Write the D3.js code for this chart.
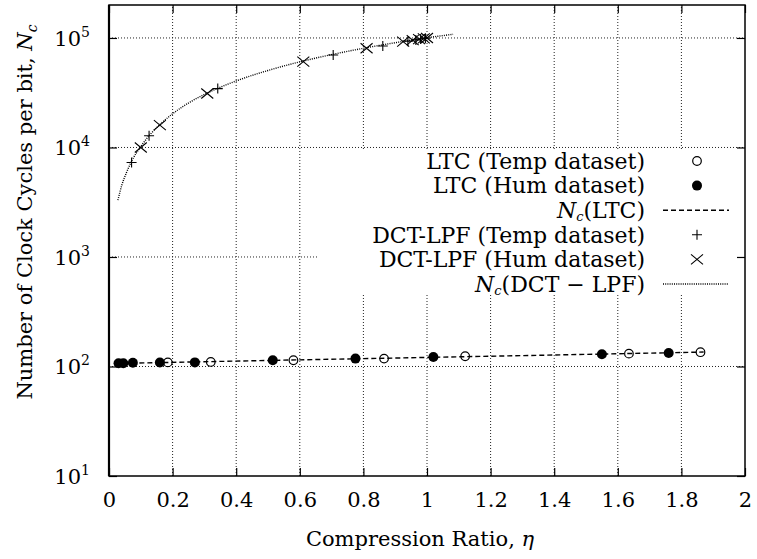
<!DOCTYPE html>
<html><head><meta charset="utf-8">
<script src="https://cdn.jsdelivr.net/npm/d3@7"></script>
<style>
body{margin:0;background:#fff;}
text{font-family:"DejaVu Serif",serif;fill:#000;}
</style></head>
<body><svg id="c" width="757" height="559"></svg>
<script>
// ---- data ----
const xTicks = [0, 0.2, 0.4, 0.6, 0.8, 1, 1.2, 1.4, 1.6, 1.8, 2];
const xTickLabels = ["0","0.2","0.4","0.6","0.8","1","1.2","1.4","1.6","1.8","2"];
const yTicks = [10, 100, 1000, 10000, 100000];
const yTickExp = ["1","2","3","4","5"];

const ltcTempEta = [0.185, 0.32, 0.58, 0.865, 1.12, 1.635, 1.86];
const ltcTempNc  = [109, 110, 114, 118, 124, 131, 135];
const ltcHumEta  = [0.03, 0.045, 0.075, 0.16, 0.27, 0.515, 0.775, 1.02, 1.55, 1.76];
const ltcHumNc   = [107, 107, 108, 108.6, 109, 114, 118, 122, 129.5, 133];
const ltcFitEta  = [0.02, 0.5, 1.0, 1.5, 1.87];
const ltcFitNc   = [106.5, 113.5, 121, 129, 135.5];

const dctTempEta = [0.071, 0.126, 0.342, 0.705, 0.861, 0.94, 0.965, 0.98, 0.995];
const dctTempNc  = [7300, 12800, 34500, 70000, 84500, 93500, 96000, 98000, 99500];
const dctHumEta  = [0.10, 0.16, 0.309, 0.611, 0.81, 0.925, 0.955, 0.975, 0.99, 1.0];
const dctHumNc   = [10000, 16000, 31100, 60800, 80500, 92500, 95500, 97500, 99000, 100000];
const dctFitEta  = [0.028, 0.04, 0.055, 0.07, 0.1, 0.13, 0.16, 0.2, 0.255, 0.3, 0.4, 0.5, 0.6, 0.7, 0.8, 0.9, 1.0, 1.082];
const dctFitNc   = [3300, 4500, 5900, 7400, 10200, 13200, 16200, 20300, 26000, 30500, 40500, 50500, 60500, 70500, 80500, 90500, 100500, 108000];

const legendLabels = [
  {kind:"open",  parts:[["LTC (Temp dataset)"]]},
  {kind:"filled",parts:[["LTC (Hum dataset)"]]},
  {kind:"dash",  parts:[["N","i"],["c","s"],["(LTC)","r"]]},
  {kind:"plus",  parts:[["DCT-LPF (Temp dataset)"]]},
  {kind:"cross", parts:[["DCT-LPF (Hum dataset)"]]},
  {kind:"dot",   parts:[["N","i"],["c","s"],["(DCT \u2212 LPF)","r"]]}
];

// ---- layout ----
const L = 109, R = 745, T = 5, B = 476;
const FS = 21, LFS = 22;
const svg = d3.select("#c");
const x = d3.scaleLinear().domain([0, 2]).range([L, R]);
const y = d3.scaleLog().domain([10, 2e5]).range([B, T]);

// grid
const grid = svg.append("g").attr("stroke", "#222").attr("stroke-width", 1).attr("stroke-dasharray", "1,2");
xTicks.slice(1, -1).forEach(v => grid.append("line").attr("x1", x(v)).attr("x2", x(v)).attr("y1", B).attr("y2", T));
yTicks.slice(1).forEach(v => grid.append("line").attr("x1", L).attr("x2", R).attr("y1", y(v)).attr("y2", y(v)));

// legend background (opaque key)
svg.append("rect").attr("x", 318).attr("y", 149).attr("width", R - 318 - 1).attr("height", 145).attr("fill", "#fff");

// axes (inward ticks)
const ax = svg.append("g").attr("transform", `translate(0,${B})`)
  .call(d3.axisBottom(x).tickValues(xTicks).tickSize(-8).tickPadding(19).tickFormat((d, i) => xTickLabels[i]));
svg.append("g").attr("transform", `translate(0,${T})`)
  .call(d3.axisTop(x).tickValues(xTicks).tickSize(-8).tickFormat(""));
const ay = svg.append("g").attr("transform", `translate(${L},0)`)
  .call(d3.axisLeft(y).tickValues(yTicks).tickSize(-8).tickPadding(20).tickFormat(""));
svg.append("g").attr("transform", `translate(${R},0)`)
  .call(d3.axisRight(y).tickValues(yTicks).tickSize(-8).tickFormat(""));
svg.selectAll(".domain").remove();
svg.selectAll(".tick line").attr("stroke", "#000").attr("stroke-width", 1.2);
ax.selectAll(".tick text").attr("font-size", FS).attr("font-family", "DejaVu Serif").attr("dy", "0.55em");
ay.selectAll(".tick").each(function(d, i) {
  const t = d3.select(this).select("text").attr("font-size", FS).attr("font-family", "DejaVu Serif")
    .attr("dy", "0.35em").attr("x", -19).text(null);
  t.append("tspan").text("10");
  t.append("tspan").attr("font-size", 14).attr("dy", -9).text(yTickExp[i]);
});

// frame
svg.append("rect").attr("x", L).attr("y", T).attr("width", R - L).attr("height", B - T)
  .attr("fill", "none").attr("stroke", "#000").attr("stroke-width", 1.5);
svg.append("line").attr("x1", L).attr("x2", L).attr("y1", T).attr("y2", B).attr("stroke", "#000").attr("stroke-width", 2.2);

// lines
const line = d3.line().x(d => x(d[0])).y(d => y(d[1])).curve(d3.curveMonotoneX);
svg.append("path").attr("d", line(ltcFitEta.map((e, i) => [e, ltcFitNc[i]])))
  .attr("fill", "none").attr("stroke", "#000").attr("stroke-width", 1.4).attr("stroke-dasharray", "5,3");
svg.append("path").attr("d", line(dctFitEta.map((e, i) => [e, dctFitNc[i]])))
  .attr("fill", "none").attr("stroke", "#000").attr("stroke-width", 1.4).attr("stroke-dasharray", "1,1.2");

// marker drawers
function marker(g, kind, cx, cy) {
  if (kind === "open") g.append("circle").attr("cx", cx).attr("cy", cy).attr("r", 4.3).attr("fill", "none").attr("stroke", "#000").attr("stroke-width", 1.2);
  if (kind === "filled") g.append("circle").attr("cx", cx).attr("cy", cy).attr("r", 5).attr("fill", "#000");
  if (kind === "plus") g.append("path").attr("d", `M${cx-5},${cy}H${cx+5}M${cx},${cy-5}V${cy+5}`).attr("stroke", "#000").attr("stroke-width", 1.1);
  if (kind === "cross") g.append("path").attr("d", `M${cx-6},${cy-5}L${cx+6},${cy+5}M${cx-6},${cy+5}L${cx+6},${cy-5}`).attr("stroke", "#000").attr("stroke-width", 1.1);
}
const mk = svg.append("g");
ltcHumEta.forEach((e, i) => marker(mk, "filled", x(e), y(ltcHumNc[i])));
ltcTempEta.forEach((e, i) => marker(mk, "open", x(e), y(ltcTempNc[i])));
dctTempEta.forEach((e, i) => marker(mk, "plus", x(e), y(dctTempNc[i])));
dctHumEta.forEach((e, i) => marker(mk, "cross", x(e), y(dctHumNc[i])));

// legend
const lg = svg.append("g");
legendLabels.forEach((it, i) => {
  const yy = 161 + i * 24.6;
  const t = lg.append("text").attr("x", 645).attr("y", yy).attr("dy", "0.35em").attr("text-anchor", "end").attr("font-size", LFS);
  it.parts.forEach(p => {
    const s = t.append("tspan").text(p[0]);
    if (p[1] === "i") s.attr("font-style", "italic");
    if (p[1] === "s") s.attr("font-style", "italic").attr("font-size", 13).attr("dy", 3);
    if (p[1] === "r") s.attr("dy", -3);
  });
  if (it.kind === "dash") lg.append("line").attr("x1", 663).attr("x2", 729).attr("y1", yy).attr("y2", yy).attr("stroke", "#000").attr("stroke-width", 1.4).attr("stroke-dasharray", "5,3");
  else if (it.kind === "dot") lg.append("line").attr("x1", 663).attr("x2", 729).attr("y1", yy).attr("y2", yy).attr("stroke", "#000").attr("stroke-width", 1.4).attr("stroke-dasharray", "1,1.2");
  else marker(lg, it.kind, 697, yy);
});

// axis titles
const yl = svg.append("text").attr("transform", "translate(25,212) rotate(-90)").attr("text-anchor", "middle").attr("dy", "0.35em").attr("font-size", FS);
yl.append("tspan").text("Number of Clock Cycles per bit, ");
yl.append("tspan").attr("font-style", "italic").text("N");
yl.append("tspan").attr("font-style", "italic").attr("font-size", 14).attr("dy", 5).text("c");
const xl = svg.append("text").attr("x", 420).attr("y", 539).attr("text-anchor", "middle").attr("dy", "0.35em").attr("font-size", FS);
xl.append("tspan").text("Compression Ratio, ");
xl.append("tspan").attr("font-style", "italic").text("\u03b7");
</script></body></html>
